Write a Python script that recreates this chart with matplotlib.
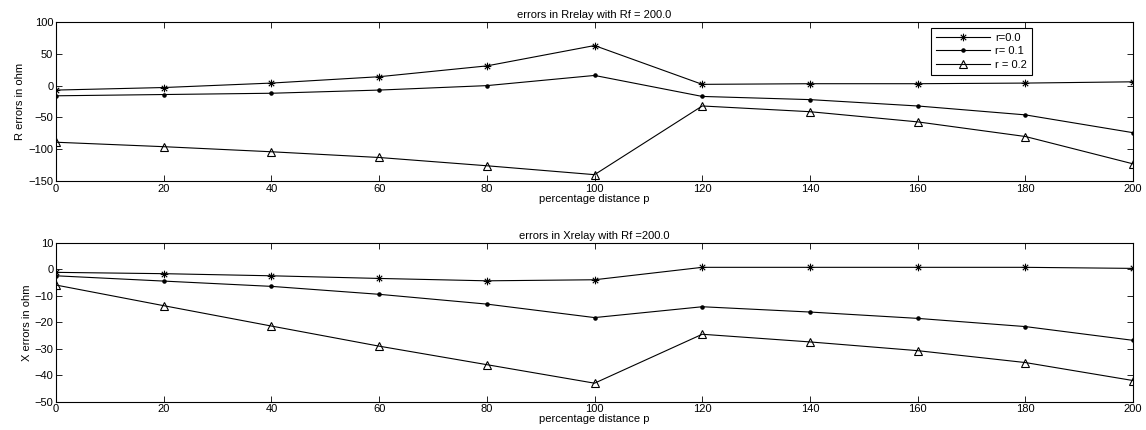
import matplotlib
matplotlib.use("Agg")
import matplotlib.pyplot as plt
from matplotlib.path import Path
import numpy as np

plt.rcParams['font.family'] = ['Liberation Sans', 'DejaVu Sans']

p = [0, 20, 40, 60, 80, 100, 120, 140, 160, 180, 200]

R_r00 = [-7, -3, 4, 14, 31, 63, 2, 3, 3, 4, 6]
R_r01 = [-16, -14, -12, -7, 0, 16, -17, -22, -32, -46, -74]
R_r02 = [-89, -96, -104, -113, -126, -140, -32, -41, -57, -80, -123]

X_r00 = [-1.1, -1.6, -2.4, -3.4, -4.3, -3.9, 0.8, 0.8, 0.8, 0.8, 0.4]
X_r01 = [-2.4, -4.4, -6.4, -9.4, -13.1, -18.2, -14.1, -16.1, -18.5, -21.6, -26.8]
X_r02 = [-5.9, -13.7, -21.4, -29.0, -36.0, -43.0, -24.5, -27.4, -30.7, -35.2, -42.0]

labels = ['r=0.0', 'r= 0.1', 'r = 0.2']
x_ticks = list(range(0, 201, 20))
R_yticks = [-150, -100, -50, 0, 50, 100]
X_yticks = [-50, -40, -30, -20, -10, 0, 10]

# MATLAB-style asterisk marker (plus + cross)
d = 0.7071
ast = Path([(-1, 0), (1, 0), (0, -1), (0, 1), (-d, -d), (d, d), (-d, d), (d, -d)],
           [Path.MOVETO, Path.LINETO] * 4)

fig = plt.figure(figsize=(11.46, 4.30), dpi=100)
ax1 = fig.add_axes([0.0489, 0.579, 0.9398, 0.3698])
ax2 = fig.add_axes([0.0489, 0.0658, 0.9398, 0.3691])

fs = 8

def style(ax):
    ax.tick_params(direction='in', top=True, right=True, length=4, width=0.6, labelsize=fs, pad=2)
    for s in ax.spines.values():
        s.set_linewidth(0.8)
    ax.set_xlim(0, 200)
    ax.set_xticks(x_ticks)

lw = 0.8
ax1.plot(p, R_r00, color='k', lw=lw, marker=ast, ms=5.5, mfc='none', mew=0.8, label=labels[0])
ax1.plot(p, R_r01, color='k', lw=lw, marker='.', ms=4.5, label=labels[1])
ax1.plot(p, R_r02, color='k', lw=lw, marker='^', ms=5.5, mfc='none', mew=0.8, label=labels[2])
style(ax1)
ax1.set_ylim(-150, 100)
ax1.set_yticks(R_yticks)
ax1.set_title('errors in Rrelay with Rf = 200.0', fontsize=fs, pad=3)
ax1.set_xlabel('percentage distance p', fontsize=fs, labelpad=0)
ax1.set_ylabel('R errors in ohm', fontsize=fs, labelpad=2)
leg = ax1.legend(loc='upper right',
                 bbox_to_anchor=((1032 - 56) / (1133 - 56), (181 - 28) / (181 - 22)),
                 bbox_transform=ax1.transAxes, borderaxespad=0,
                 fontsize=fs, frameon=True, fancybox=False, edgecolor='k', framealpha=1,
                 handlelength=4.8, borderpad=0.45, labelspacing=0.3, handletextpad=0.5)
leg.get_frame().set_linewidth(0.8)

ax2.plot(p, X_r00, color='k', lw=lw, marker=ast, ms=5.5, mfc='none', mew=0.8)
ax2.plot(p, X_r01, color='k', lw=lw, marker='.', ms=4.5)
ax2.plot(p, X_r02, color='k', lw=lw, marker='^', ms=5.5, mfc='none', mew=0.8)
style(ax2)
ax2.set_ylim(-50, 10)
ax2.set_yticks(X_yticks)
ax2.set_title('errors in Xrelay with Rf =200.0', fontsize=fs, pad=3)
ax2.set_xlabel('percentage distance p', fontsize=fs, labelpad=0)
ax2.set_ylabel('X errors in ohm', fontsize=fs, labelpad=2)

fig.savefig('out.png', dpi=100)
